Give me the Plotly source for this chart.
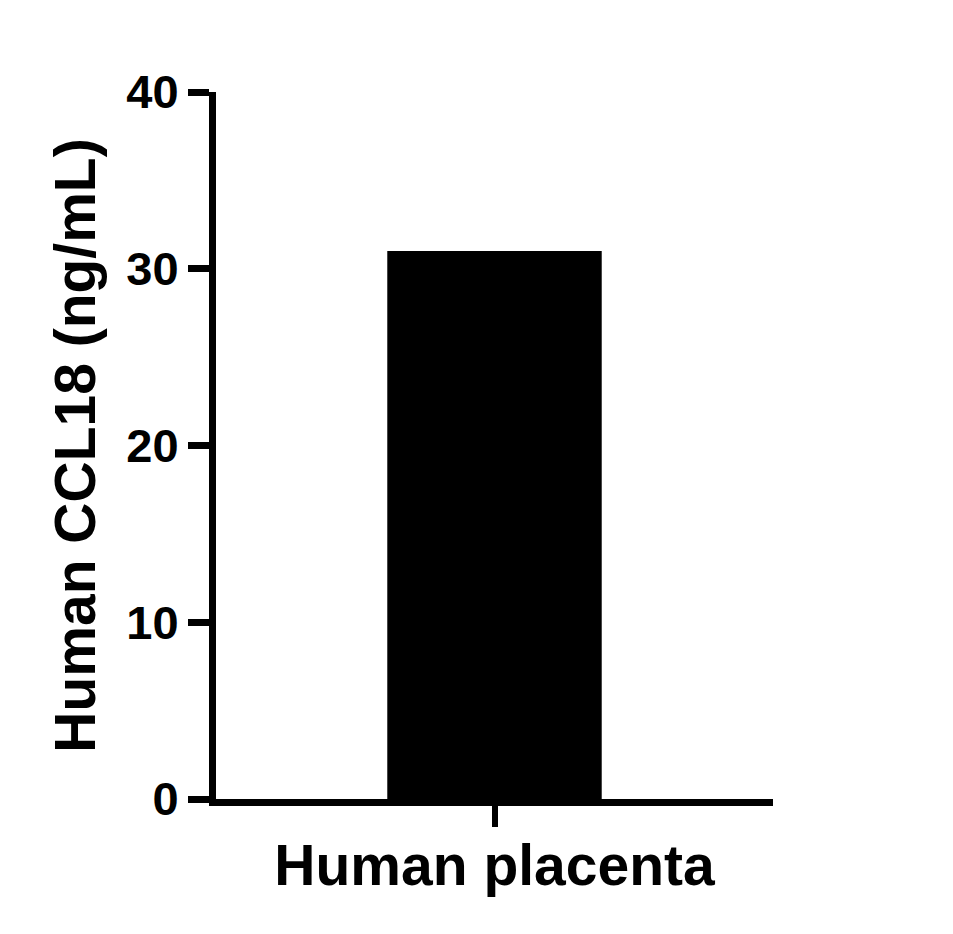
import plotly.graph_objects as go

categories = ["Human placenta"]
values = [31.0]
y_ticks = [0, 10, 20, 30, 40]

font_family = "Liberation Sans, Arial, sans-serif"

fig = go.Figure(
    go.Bar(
        x=categories,
        y=values,
        width=0.385,
        marker=dict(color="black", line=dict(width=0)),
    )
)

fig.update_layout(
    width=953,
    height=934,
    margin=dict(l=208, r=188, t=84, b=143),
    plot_bgcolor="white",
    paper_bgcolor="white",
    showlegend=False,
    font=dict(family=font_family, color="black", weight="bold"),
)

fig.update_xaxes(
    range=[-0.5, 0.5],
    showline=True,
    linecolor="black",
    linewidth=7,
    ticks="outside",
    ticklen=21,
    tickwidth=6,
    tickcolor="black",
    ticklabelstandoff=-10,
    tickfont=dict(size=57, family=font_family, weight="bold"),
    showgrid=False,
    zeroline=False,
)

fig.update_yaxes(
    range=[0, 40],
    tickvals=y_ticks,
    showline=True,
    linecolor="black",
    linewidth=7,
    ticks="outside",
    ticklen=21,
    tickwidth=7,
    tickcolor="black",
    tickfont=dict(size=47, family=font_family, weight="bold"),
    title=dict(text="Human CCL18 (ng/mL)", font=dict(size=57, family=font_family, weight="bold"), standoff=15),
    showgrid=False,
    zeroline=False,
)

fig.write_html("out.html")
